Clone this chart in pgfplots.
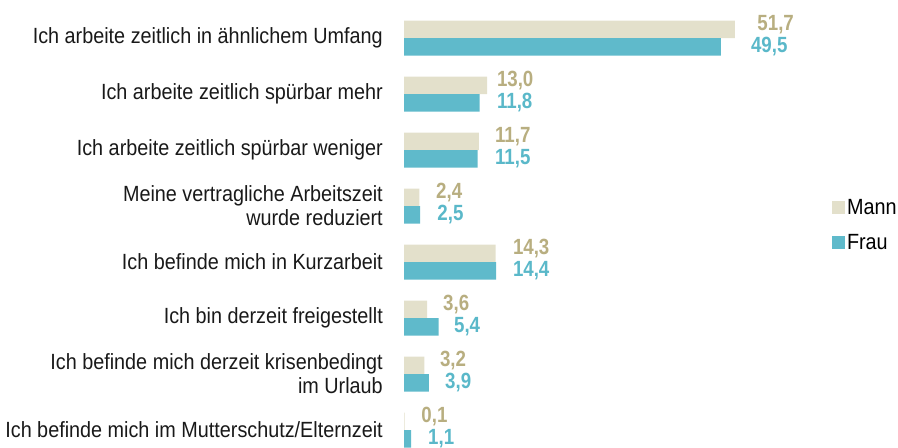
\documentclass[border=0pt]{standalone}
\usepackage{pgfplots}
\pgfplotsset{compat=1.18}
\usepackage{pgfplotstable}
\usepackage{fontspec}
\setmainfont[FakeStretch=0.9]{Liberation Sans}
\newfontfamily\valfont[FakeStretch=0.85]{Liberation Sans}
\definecolor{mannbar}{HTML}{E3E0CB}
\definecolor{manntext}{HTML}{B8AE80}
\definecolor{fraubar}{HTML}{5FBACB}
\definecolor{frautext}{HTML}{5AB8C9}
\pgfplotstableread{
x y
51.7 7
13.0 6
11.7 5
2.4 4
14.3 3
3.6 2
3.2 1
0.1 0
}\mann
\pgfplotstableread{
x y
49.5 7
11.8 6
11.5 5
2.5 4
14.4 3
5.4 2
3.9 1
1.1 0
}\frau
\pgfplotstableread{
lx y lab
55.2 7 51,7
14.5 6 13,0
14.2 5 11,7
5.0 4 2,4
17.0 3 14,3
6.1 2 3,6
5.6 1 3,2
2.7 0 0,1
}\mannlab
\pgfplotstableread{
lx y lab
54.2 7 49,5
14.5 6 11,8
14.2 5 11,5
5.2 4 2,5
17.0 3 14,4
7.8 2 5,4
6.4 1 3,9
3.75 0 1,1
}\fraulab
\begin{document}
\begin{tikzpicture}
\begin{axis}[
  at={(404bp,-458bp)}, anchor=south west,
  scale only axis, width=448bp, height=448bp,
  xmin=0, xmax=70, ymin=-0.5, ymax=7.5,
  clip=false,
  axis line style={draw=none},
  major tick length=0pt,
  xtick=\empty,
  ytick={0,1,2,3,4,5,6,7},
  yticklabels={
    {Ich befinde mich im Mutterschutz/Elternzeit},
    {Ich befinde mich derzeit krisenbedingt\\im Urlaub},
    {Ich bin derzeit freigestellt},
    {Ich befinde mich in Kurzarbeit},
    {Meine vertragliche Arbeitszeit\\wurde reduziert},
    {Ich arbeite zeitlich spürbar weniger},
    {Ich arbeite zeitlich spürbar mehr},
    {Ich arbeite zeitlich in ähnlichem Umfang}},
  yticklabel style={anchor=east, align=right, inner sep=0pt, xshift=-21bp,
    font=\fontsize{22bp}{24bp}\selectfont, text=black!90},
  legend style={at={(axis description cs:0.955,0.52)}, anchor=west,
    draw=none, fill=none, inner sep=0pt, row sep=14bp,
    font=\fontsize{22bp}{24bp}\selectfont},
  legend cell align=left,
  legend image code/.code={\fill[#1] (0bp,-6.5bp) rectangle (13bp,6.5bp);},
]
\addplot[xbar, bar width=17.5bp, bar shift=8.75bp, fill=mannbar, draw=none] table[x=x,y=y] {\mann};
\addlegendentry{Mann}
\addplot[xbar, bar width=17.5bp, bar shift=-8.75bp, fill=fraubar, draw=none] table[x=x,y=y] {\frau};
\addlegendentry{Frau}
\addplot[forget plot, draw=none, mark=none, nodes near coords, point meta=explicit symbolic,
  nodes near coords style={anchor=west, inner sep=0pt, yshift=13bp, text=manntext,
    font=\valfont\bfseries\fontsize{22bp}{24bp}\selectfont}]
  table[x=lx, y=y, meta=lab] {\mannlab};
\addplot[forget plot, draw=none, mark=none, nodes near coords, point meta=explicit symbolic,
  nodes near coords style={anchor=west, inner sep=0pt, yshift=-9bp, text=frautext,
    font=\valfont\bfseries\fontsize{22bp}{24bp}\selectfont}]
  table[x=lx, y=y, meta=lab] {\fraulab};
\end{axis}
\pgfresetboundingbox
\useasboundingbox (0,0) rectangle (898bp,-448bp);
\end{tikzpicture}
\end{document}
